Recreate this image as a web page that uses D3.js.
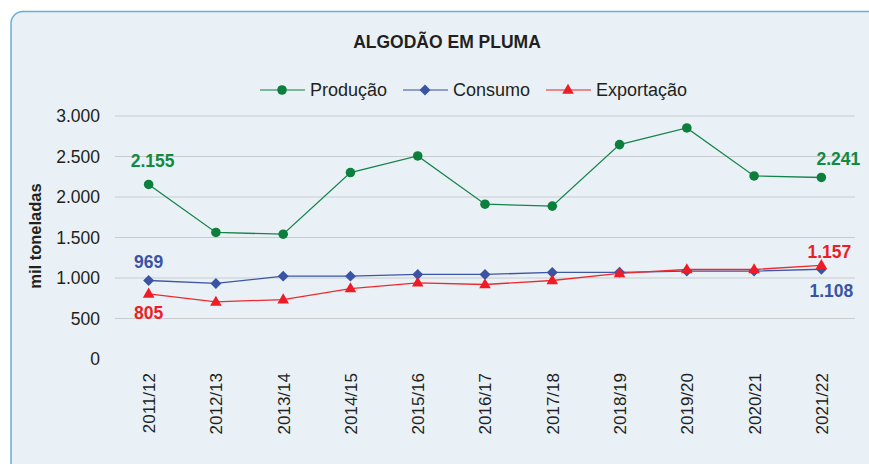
<!DOCTYPE html>
<html><head><meta charset="utf-8">
<script src="https://cdn.jsdelivr.net/npm/d3@7"></script>
<style>html,body{margin:0;padding:0;background:#fff;}svg{display:block;}</style>
</head><body>
<script>
const categories = ["2011/12","2012/13","2013/14","2014/15","2015/16","2016/17","2017/18","2018/19","2019/20","2020/21","2021/22"];
const producao   = [2155,1562,1541,2302,2507,1911,1887,2647,2852,2260,2241];
const consumo    = [969,933,1023,1023,1044,1044,1069,1070,1085,1085,1108];
const exportacao = [805,706,734,870,941,920,969,1058,1105,1105,1157];
const yTicks = [0,500,1000,1500,2000,2500,3000];
const seriesNames = ["Produção","Consumo","Exportação"];

const W = 869, H = 464;
const svg = d3.select("body").append("svg").attr("width", W).attr("height", H);
const FONT = "'Liberation Sans', Arial, sans-serif";

svg.append("rect").attr("x", 11).attr("y", 11.5).attr("width", W + 20).attr("height", H + 20)
  .attr("rx", 12).attr("fill", "#e9f1f6").attr("stroke", "#6aaed6").attr("stroke-width", 1.5);

const x = d3.scalePoint().domain(categories).range([115, 855]).padding(0.5);
const y = d3.scaleLinear().domain([0, 3000]).range([359, 116]);

const fmt = v => d3.format(",")(v).replace(/,/g, ".");

// gridlines
svg.append("g").selectAll("line").data(yTicks.filter(t => t > 0)).join("line")
  .attr("x1", 115).attr("x2", 855).attr("y1", d => y(d)).attr("y2", d => y(d))
  .attr("stroke", "#c9cccf").attr("stroke-width", 1.2);

// y axis
const yAxis = svg.append("g").attr("transform", "translate(115,0)")
  .call(d3.axisLeft(y).tickValues(yTicks).tickFormat(fmt).tickSize(0).tickPadding(15));
yAxis.select(".domain").remove();
yAxis.selectAll("text").attr("font-family", FONT).attr("font-size", 17.5).attr("fill", "#231f20");

// x axis
const xAxis = svg.append("g").attr("transform", "translate(0,359)")
  .call(d3.axisBottom(x).tickSize(0));
xAxis.select(".domain").remove();
xAxis.selectAll("text").attr("font-family", FONT).attr("font-size", 17).attr("fill", "#231f20")
  .attr("transform", "rotate(-90)").attr("text-anchor", "end").attr("dy", "0.35em").attr("x", -14).attr("y", 0);

// y label
svg.append("text").attr("transform", "translate(41,236) rotate(-90)").attr("text-anchor", "middle")
  .attr("font-family", FONT).attr("font-weight", "bold").attr("font-size", 16.5).attr("fill", "#231f20")
  .text("mil toneladas");

// title
svg.append("text").attr("x", 447).attr("y", 48).attr("text-anchor", "middle")
  .attr("font-family", FONT).attr("font-weight", "bold").attr("font-size", 17.5).attr("fill", "#231f20")
  .text("ALGODÃO EM PLUMA");

const diamond = { draw(ctx, size) { const r = Math.sqrt(size / 2); ctx.moveTo(0, -r); ctx.lineTo(r, 0); ctx.lineTo(0, r); ctx.lineTo(-r, 0); ctx.closePath(); } };

const series = [
  {name: seriesNames[0], values: producao, line: "#15834a", marker: "#0b7f3b", sym: d3.symbolCircle, size: 72, dy: 0},
  {name: seriesNames[1], values: consumo, line: "#3d56a6", marker: "#3a54a4", sym: diamond, size: 60, dy: 0},
  {name: seriesNames[2], values: exportacao, line: "#ee2a2f", marker: "#ee1c25", sym: d3.symbolTriangle, size: 58, dy: 0.5}
];

const line = d3.line().x((d, i) => x(categories[i])).y(d => y(d));
series.forEach(s => {
  svg.append("path").datum(s.values).attr("d", line).attr("fill", "none")
    .attr("stroke", s.line).attr("stroke-width", 1.3);
});
series.forEach(s => {
  svg.append("g").selectAll("path").data(s.values).join("path")
    .attr("d", d3.symbol().type(s.sym).size(s.size))
    .attr("transform", (d, i) => `translate(${x(categories[i])},${y(d) + s.dy})`)
    .attr("fill", s.marker);
});

// data labels
const last = categories.length - 1;
const labels = [
  {v: producao[0], cx: x(categories[0]) + 4, cy: 167, c: "#138a3e"},
  {v: consumo[0], cx: x(categories[0]), cy: 268, c: "#3a54a4"},
  {v: exportacao[0], cx: x(categories[0]), cy: 319, c: "#ee1c25"},
  {v: producao[last], cx: x(categories[last]) + 17, cy: 165, c: "#138a3e"},
  {v: exportacao[last], cx: x(categories[last]) + 8, cy: 258, c: "#ee1c25"},
  {v: consumo[last], cx: x(categories[last]) + 10, cy: 297, c: "#3a54a4"}
];
svg.append("g").selectAll("text").data(labels).join("text")
  .attr("x", d => d.cx).attr("y", d => d.cy).attr("text-anchor", "middle")
  .attr("font-family", FONT).attr("font-weight", "bold").attr("font-size", 17.5).attr("fill", d => d.c)
  .text(d => fmt(d.v));

// legend
const legX = [260, 403, 546];
const lg = svg.append("g");
series.forEach((s, i) => {
  const g = lg.append("g").attr("transform", `translate(${legX[i]},90)`);
  g.append("line").attr("x1", 0).attr("x2", 45).attr("y1", 0).attr("y2", 0)
    .attr("stroke", s.line).attr("stroke-opacity", 0.7).attr("stroke-width", 1.5);
  g.append("path").attr("d", d3.symbol().type(s.sym).size(s.size)).attr("fill", s.marker)
    .attr("transform", `translate(22,${s.dy})`);
  g.append("text").attr("x", 50).attr("y", 0).attr("dy", "0.35em")
    .attr("font-family", FONT).attr("font-size", 18).attr("fill", "#231f20").text(s.name);
});
</script>
</body></html>
